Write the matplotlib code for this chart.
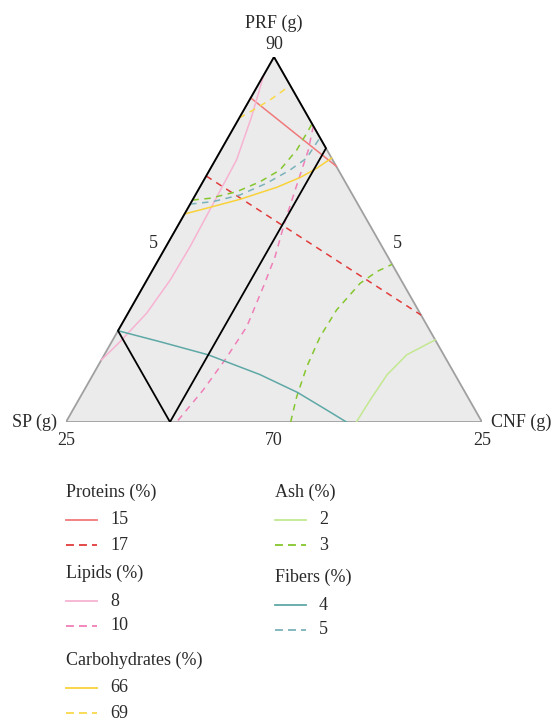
import numpy as np
import matplotlib
matplotlib.use('Agg')
import matplotlib.pyplot as plt

plt.rcParams['font.family'] = ['Liberation Serif', 'DejaVu Serif']

# contour lines, pseudo-component fractions (PRF, CNF; SP = rest)
proteins_15_prf = [0.888, 0.701]
proteins_15_cnf = [0.0, 0.299]
proteins_17_prf = [0.674, 0.293]
proteins_17_cnf = [0.0, 0.707]

lipids_8_prf = [0.951, 0.836, 0.718, 0.590, 0.480, 0.389, 0.299, 0.220, 0.170]
lipids_8_cnf = [0.0, 0.028, 0.051, 0.055, 0.058, 0.056, 0.045, 0.020, 0.0]
lipids_10_prf = [0.811, 0.745, 0.636, 0.548, 0.453, 0.371, 0.261, 0.170, 0.088, 0.0]
lipids_10_cnf = [0.189, 0.210, 0.233, 0.252, 0.276, 0.289, 0.304, 0.297, 0.286, 0.266]

carbs_66_prf = [0.570, 0.581, 0.610, 0.643, 0.670, 0.695, 0.723]
carbs_66_cnf = [0.0, 0.032, 0.113, 0.185, 0.228, 0.255, 0.277]
carbs_69_prf = [0.833, 0.855, 0.882, 0.922]
carbs_69_cnf = [0.0, 0.023, 0.049, 0.078]

ash_2_prf = [0.0, 0.060, 0.129, 0.184, 0.225]
ash_2_cnf = [0.698, 0.701, 0.707, 0.727, 0.775]
ash_3_prf = [0.0, 0.069, 0.152, 0.234, 0.307, 0.380, 0.412, 0.432]
ash_3_cnf = [0.540, 0.520, 0.503, 0.494, 0.497, 0.517, 0.541, 0.568]
ash_3b_prf = [0.608, 0.613, 0.631, 0.658, 0.690, 0.745, 0.791, 0.817]
ash_3b_cnf = [0.0, 0.040, 0.095, 0.137, 0.169, 0.182, 0.183, 0.183]

fibers_4_prf = [0.250, 0.220, 0.184, 0.130, 0.081, 0.033, 0.0]
fibers_4_cnf = [0.0, 0.116, 0.250, 0.401, 0.516, 0.610, 0.674]
fibers_5_prf = [0.597, 0.604, 0.622, 0.654, 0.690, 0.723, 0.779]
fibers_5_cnf = [0.0, 0.052, 0.107, 0.155, 0.193, 0.217, 0.221]

# constrained region: SP <= 0.75, CNF <= 0.25
region_prf = [1.0, 0.75, 0.0, 0.25, 1.0]
region_cnf = [0.0, 0.25, 0.25, 0.0, 0.0]

legend_groups = ["Proteins (%)", "Lipids (%)", "Carbohydrates (%)", "Ash (%)", "Fibers (%)"]
legend_levels = [["15", "17"], ["8", "10"], ["66", "69"], ["2", "3"], ["4", "5"]]

colors = {
    "proteins": ("#f07a7a", "#e23b3b"),
    "lipids": ("#f7b3d2", "#f07fb8"),
    "carbs": ("#f9d23a", "#f9d94a"),
    "ash": ("#c3e891", "#86c62e"),
    "fibers": ("#5ea8a6", "#7ab3ba"),
}


def to_xy(prf, cnf):
    prf = np.asarray(prf, float)
    cnf = np.asarray(cnf, float)
    return cnf + prf / 2.0, prf


W, H = 554, 720
fig = plt.figure(figsize=(W / 100, H / 100), dpi=100)
ax = fig.add_axes([66 / W, (H - 422) / H, 416 / W, 365 / H])
ax.set_xlim(0, 1)
ax.set_ylim(0, 1)
ax.axis('off')

# triangle
tx, ty = to_xy([0, 0, 1, 0], [0, 1, 0, 0])
ax.fill(tx, ty, color='#ebebeb', lw=0, zorder=0)
ax.plot(tx, ty, color='#a0a0a0', lw=1.3, zorder=1)

lw = 1.1
dash = (0, (4.2, 3.6))
series = [
    (proteins_15_prf, proteins_15_cnf, colors["proteins"][0], '-'),
    (proteins_17_prf, proteins_17_cnf, colors["proteins"][1], dash),
    (lipids_8_prf, lipids_8_cnf, colors["lipids"][0], '-'),
    (lipids_10_prf, lipids_10_cnf, colors["lipids"][1], dash),
    (carbs_66_prf, carbs_66_cnf, colors["carbs"][0], '-'),
    (carbs_69_prf, carbs_69_cnf, colors["carbs"][1], dash),
    (ash_2_prf, ash_2_cnf, colors["ash"][0], '-'),
    (ash_3_prf, ash_3_cnf, colors["ash"][1], dash),
    (ash_3b_prf, ash_3b_cnf, colors["ash"][1], dash),
    (fibers_4_prf, fibers_4_cnf, colors["fibers"][0], '-'),
    (fibers_5_prf, fibers_5_cnf, colors["fibers"][1], dash),
]
for prf, cnf, col, ls in series:
    x, y = to_xy(prf, cnf)
    ax.plot(x, y, color=col, ls=ls, lw=lw, zorder=2)

rx, ry = to_xy(region_prf, region_cnf)
ax.plot(rx, ry, color='black', lw=1.3, zorder=3, solid_joinstyle='miter')

fs = 13
kw = dict(fontsize=fs, color='#2a2a2a', clip_on=False)
ax.text(0.5, 1.093, "PRF (g)", ha='center', va='center', **kw)
ax.text(0.5, 1.033, "90", ha='center', va='center', **kw)
ax.text(0.209, 0.49, "5", ha='center', va='center', **kw)
ax.text(0.797, 0.49, "5", ha='center', va='center', **kw)
ax.text(0.0, -0.052, "25", ha='center', va='center', **kw)
ax.text(0.5, -0.052, "70", ha='center', va='center', **kw)
ax.text(1.0, -0.052, "25", ha='center', va='center', **kw)
ax.text(-0.022, 0.0, "SP (g)", ha='right', va='center', **kw)
ax.text(1.022, 0.0, "CNF (g)", ha='left', va='center', **kw)

# legend in pixel coordinates
lax = fig.add_axes([0, 0, 1, 1])
lax.set_xlim(0, W)
lax.set_ylim(H, 0)
lax.axis('off')
lax.patch.set_alpha(0)

keys = ["proteins", "lipids", "carbs", "ash", "fibers"]
col_x = [66, 66, 66, 275, 275]
title_y = [492, 573, 660, 492, 577]
for key, title, levels, x0, y0 in zip(keys, legend_groups, legend_levels, col_x, title_y):
    lax.text(x0, y0, title, ha='left', va='center', fontsize=fs, color='#2a2a2a')
    for i, lev in enumerate(levels):
        yy = y0 + 28 + 25 * i
        lax.plot([x0, x0 + 31], [yy, yy], color=colors[key][i],
                 ls='-' if i == 0 else (0, (4.4, 2.8)), lw=1.3)
        lax.text(x0 + 44, yy, lev, ha='left', va='center', fontsize=fs, color='#2a2a2a')

fig.savefig('out.png', dpi=100)
